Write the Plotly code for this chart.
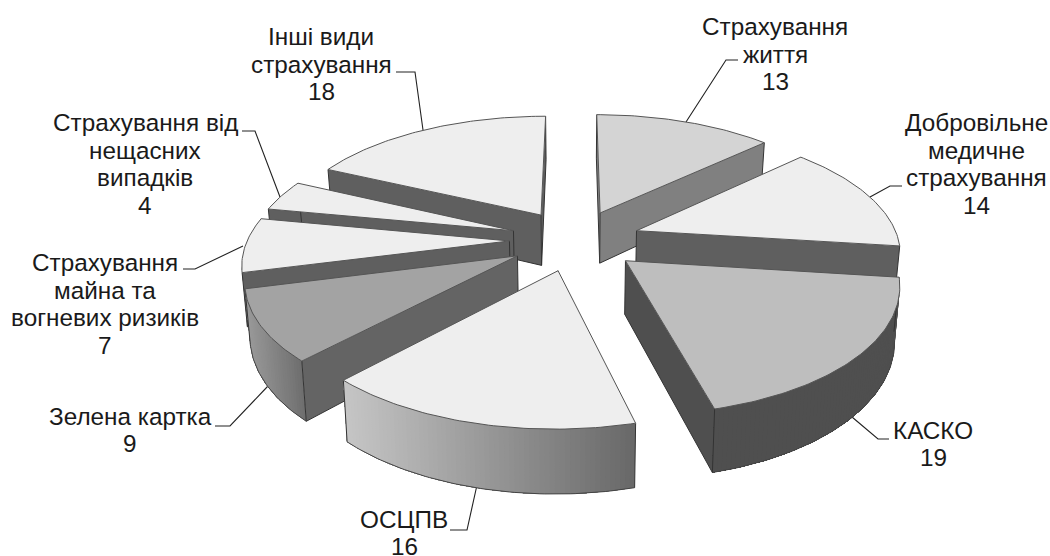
import math
import plotly.graph_objects as go

categories = ["Страхування|життя", "Добровільне|медичне|страхування", "КАСКО", "ОСЦПВ",
              "Зелена картка", "Страхування|майна та|вогневих ризиків",
              "Страхування від|нещасних|випадків", "Інші види|страхування"]
values = [13, 14, 19, 16, 9, 7, 4, 18]

top_colors = ["#d4d4d4", "#eeeeee", "#bebebe", "#eeeeee", "#a3a3a3", "#eeeeee", "#eeeeee", "#eeeeee"]
face_colors = ["#808080", "#5f5f5f", "#4f4f4f", "#666666", "#646464", "#5f5f5f", "#5f5f5f", "#5f5f5f"]
wall_left = ["#808080", "#5f5f5f", "#4f4f4f", "#c6c6c6", "#9a9a9a", "#808080", "#777777", "#5f5f5f"]
wall_right = ["#808080", "#5f5f5f", "#4f4f4f", "#686868", "#6e6e6e", "#808080", "#777777", "#5f5f5f"]
draw_order = [0, 1, 7, 6, 5, 4, 2, 3]

label_x = [775, 976, 933, 404, 130, 105, 145, 321]
label_y = [54, 164, 444, 533, 430, 304, 164, 64]
leaders = [[(686, 122), (726, 60), (738, 60)], [(870, 197), (890, 186), (902, 186)],
           [(852, 417), (878, 439), (889, 439)], [(477, 485), (467, 530), (450, 530)],
           [(268, 386), (230, 426), (215, 426)], [(243, 246), (195, 269), (183, 269)],
           [(280, 197), (255, 131), (242, 131)], [(423, 130), (415, 72), (396, 72)]]

CX, CY, A, B, P, H, SHR, EXPL = 575, 240, 262, 122, 0.16, 52, 0.984, 0.25
LINE_PITCH = 27.7


def proj(X, Y):
    s = 1 / (1 + P * Y)
    return CX + A * X * s, CY - B * Y * s, s


def lower(X, Y):
    x, y, s = proj(X, Y)
    return CX + (x - CX) * SHR, y + H * s


def hex2(c):
    return [int(c[i:i + 2], 16) for i in (1, 3, 5)]


def mix(c1, c2, t):
    a, b = hex2(c1), hex2(c2)
    return "rgb(%d,%d,%d)" % tuple(round(a[i] + (b[i] - a[i]) * t) for i in range(3))


fig = go.Figure()


def poly(pts, fill, line=None, width=0.0):
    fig.add_trace(go.Scatter(x=[p[0] for p in pts] + [pts[0][0]], y=[p[1] for p in pts] + [pts[0][1]],
                             mode="lines", fill="toself", fillcolor=fill,
                             line=dict(color=line or fill, width=width), hoverinfo="skip", showlegend=False))


def stroke(pts, color, width=1.0):
    fig.add_trace(go.Scatter(x=[p[0] for p in pts], y=[p[1] for p in pts], mode="lines",
                             line=dict(color=color, width=width), hoverinfo="skip", showlegend=False))


for seg in leaders:
    stroke(seg, "#222222", 1.1)

total = sum(values)
angles = [0]
for v in values:
    angles.append(angles[-1] + v / total * 2 * math.pi)

for i in draw_order:
    a0, a1 = angles[i], angles[i + 1]
    mid = (a0 + a1) / 2
    ox, oy = EXPL * math.sin(mid), EXPL * math.cos(mid)
    n = max(16, int(values[i] * 4))
    rim = [(ox + math.sin(a0 + (a1 - a0) * k / n), oy + math.cos(a0 + (a1 - a0) * k / n)) for k in range(n + 1)]
    loop = [(ox, oy)] + rim
    tops = [proj(*p)[:2] for p in loop]
    lows = [lower(*p) for p in loop]
    xs = [t[0] for t in tops[1:]]
    xmin, xmax = min(xs), max(xs)
    m = len(loop)
    # radial faces: visible when the clockwise edge runs leftwards on screen
    for k, j in ((0, 1), (m - 1, 0)):
        if tops[j][0] < tops[k][0]:
            poly([tops[k], tops[j], lows[j], lows[k]], face_colors[i])
            stroke([lows[k], lows[j]], "#333333")
    # outer wall: runs of rim edges, painted right to left with overlap so no seams show
    run = []
    runs = []
    for k in range(1, m - 1):
        if tops[k + 1][0] < tops[k][0]:
            run.append(k)
        elif run:
            runs.append(run)
            run = []
    if run:
        runs.append(run)
    for run in runs:
        last = run[-1] + 1
        for k in run:
            t = ((tops[k][0] + tops[k + 1][0]) / 2 - xmin) / max(1, xmax - xmin)
            col = mix(wall_left[i], wall_right[i], t)
            poly(tops[k:last + 1] + lows[k:last + 1][::-1], col)
        stroke(lows[run[0]:last + 1], "#444444")
    for k in (1, m - 1, 0):
        stroke([tops[k], lows[k]], "#333333")
    poly(tops, top_colors[i], "#555555", 1.0)

annotations = []
for c, v, x, y in zip(categories, values, label_x, label_y):
    lines = c.split("|") + [str(v)]
    for k, text in enumerate(lines):
        annotations.append(dict(x=x, y=y + (k - (len(lines) - 1) / 2) * LINE_PITCH, text=text, showarrow=False,
                                xref="x", yref="y", xanchor="center", yanchor="middle", align="center",
                                font=dict(family="Liberation Sans", size=24.3, color="#1a1a1a")))

fig.update_layout(width=1050, height=556, margin=dict(l=0, r=0, t=0, b=0), paper_bgcolor="white",
                  plot_bgcolor="white", showlegend=False, annotations=annotations,
                  xaxis=dict(range=[0, 1050], visible=False, fixedrange=True),
                  yaxis=dict(range=[556, 0], visible=False, fixedrange=True))
fig.write_html("out.html", config=dict(displayModeBar=False),
               post_script="document.body.style.margin='0';document.body.style.overflow='hidden';")
